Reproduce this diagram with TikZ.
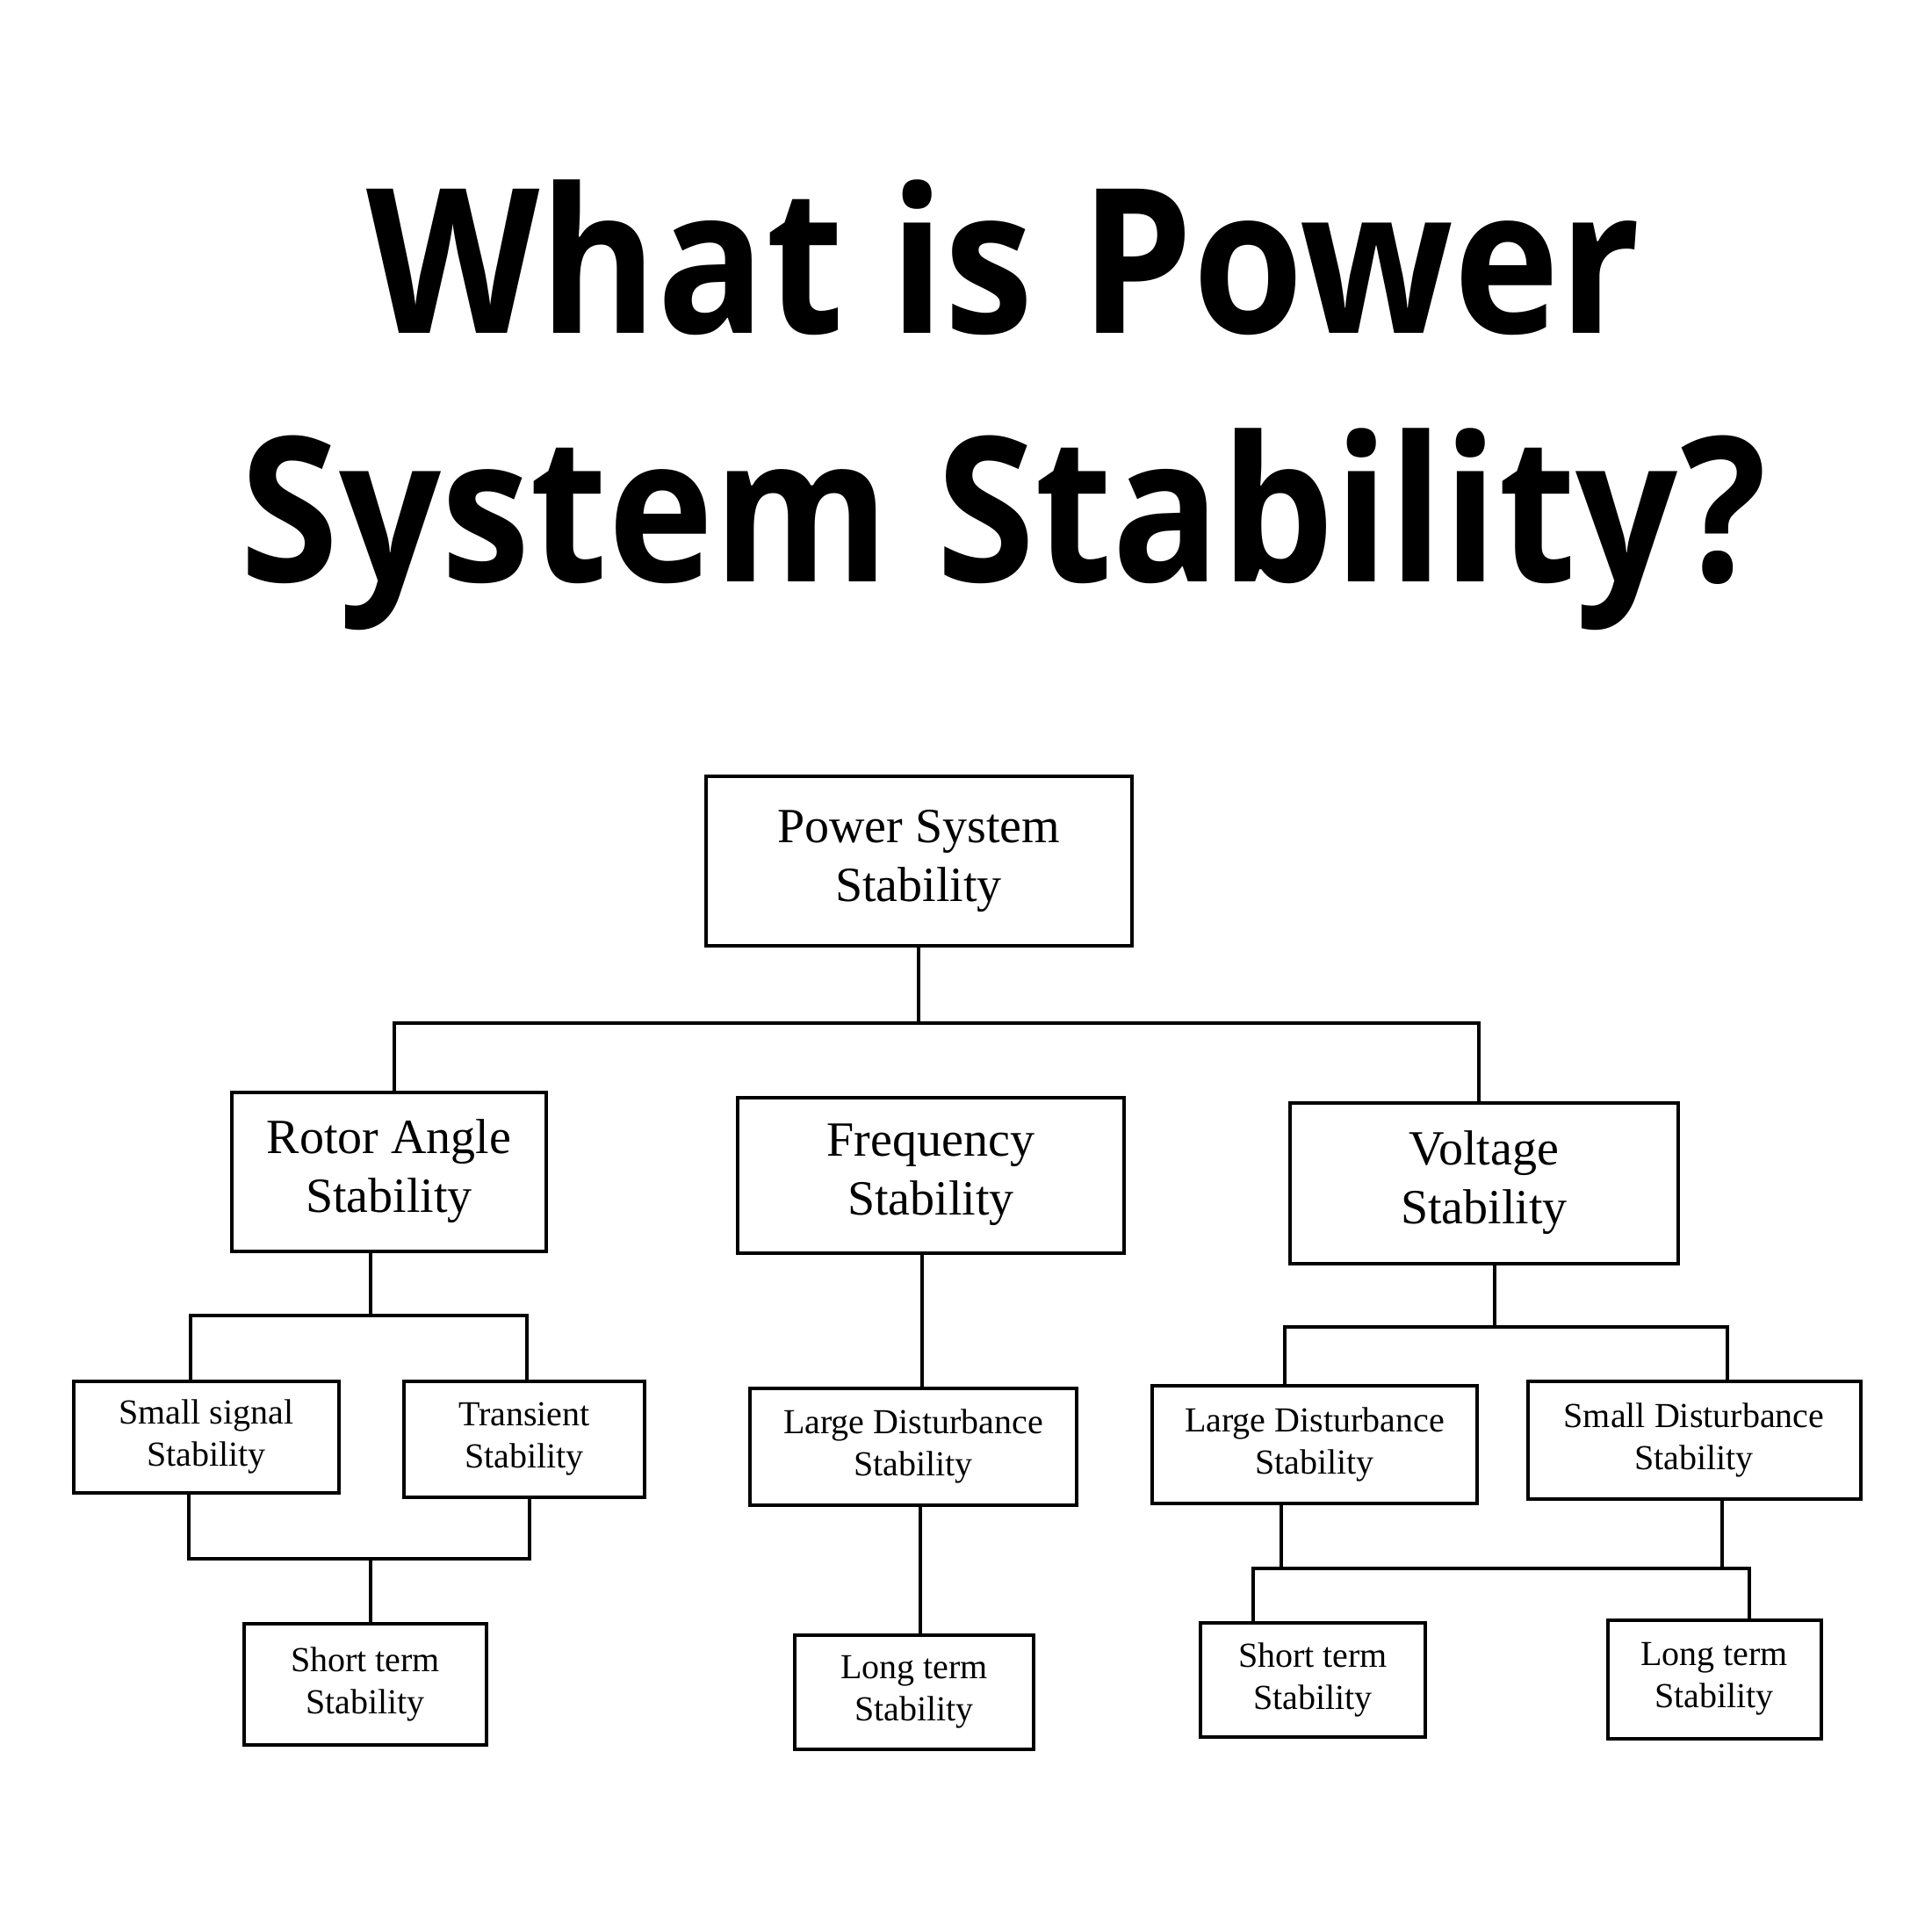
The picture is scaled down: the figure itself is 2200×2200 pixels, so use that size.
\documentclass[tikz,border=0pt]{standalone}
\usepackage{graphicx}
\usepackage{fontspec}
\setmainfont{Liberation Serif}
\newfontfamily\titlefont{Open Sans}
\begin{document}
\begin{tikzpicture}[x=1pt,y=-1pt,
  bigbox/.style={draw,line width=4pt,inner sep=0pt,align=center,font=\fontsize{56}{67}\selectfont},
  smallbox/.style={draw,line width=4pt,inner sep=0pt,align=center,font=\fontsize{40}{48}\selectfont},
  titletext/.style={anchor=base,inner sep=0pt,font=\titlefont\bfseries\fontsize{230}{283}\selectfont},
  link/.style={line width=3.5pt}]
\useasboundingbox (0,0) rectangle (2200,2200);

% Title
\node (title1) [titletext] at (1143,379) {\scalebox{0.887}[1]{What is Power}};
\node (title2) [titletext] at (1143,662) {\scalebox{0.887}[1]{System Stability?}};

% Top box
\node (pss) [bigbox,minimum width=485pt,minimum height=193pt] at (1046,980) {Power System\\Stability};

% Second level
\node (rotor) [bigbox,minimum width=358pt,minimum height=181pt] at (443,1334) {Rotor Angle\\Stability};
\node (freq) [bigbox,minimum width=440pt,minimum height=177pt] at (1060,1338) {Frequency\\Stability};
\node (volt) [bigbox,minimum width=442pt,minimum height=183pt] at (1690,1347) {Voltage\\Stability};

% Third level
\node (ssig) [smallbox,minimum width=302pt,minimum height=127pt] at (235,1636) {Small signal\\Stability};
\node (trans) [smallbox,minimum width=274pt,minimum height=132pt] at (597,1639) {Transient\\Stability};
\node (ldf) [smallbox,minimum width=372pt,minimum height=133pt] at (1040,1647) {Large Disturbance\\Stability};
\node (ldv) [smallbox,minimum width=370pt,minimum height=134pt] at (1497,1645) {Large Disturbance\\Stability};
\node (sdv) [smallbox,minimum width=379pt,minimum height=134pt] at (1929,1640) {Small Disturbance\\Stability};

% Bottom level
\node (stl) [smallbox,minimum width=276pt,minimum height=138pt] at (416,1918) {Short term\\Stability};
\node (ltm) [smallbox,minimum width=272pt,minimum height=130pt] at (1041,1927) {Long term\\Stability};
\node (str) [smallbox,minimum width=256pt,minimum height=130pt] at (1495,1913) {Short term\\Stability};
\node (ltr) [smallbox,minimum width=243pt,minimum height=135pt] at (1952,1912) {Long term\\Stability};

% Bus points
\coordinate (b1l) at (449,1165);
\coordinate (b1r) at (1684,1165);
\coordinate (b2l) at (217,1498);
\coordinate (b2m) at (422,1498);
\coordinate (b2r) at (600,1498);
\coordinate (b3l) at (215,1775);
\coordinate (b3m) at (422,1775);
\coordinate (b3r) at (603,1775);
\coordinate (f1) at (1050,1490);
\coordinate (f2) at (1048,1790);
\coordinate (b4l) at (1463,1511);
\coordinate (b4m) at (1702,1511);
\coordinate (b4r) at (1967,1511);
\coordinate (b5l) at (1427,1786);
\coordinate (b5a) at (1459,1786);
\coordinate (b5b) at (1961,1786);
\coordinate (b5r) at (1992,1786);

% Connectors
\draw[link] (pss.south) -- (pss.south |- b1l);
\draw[link] (rotor.north -| b1l) -- (b1l) -- (b1r) -- (volt.north -| b1r);

\draw[link] (rotor.south -| b2m) -- (b2m);
\draw[link] (ssig.north -| b2l) -- (b2l) -- (b2r) -- (trans.north -| b2r);
\draw[link] (ssig.south -| b3l) -- (b3l) -- (b3r) -- (trans.south -| b3r);
\draw[link] (b3m) -- (stl.north -| b3m);

\draw[link] (freq.south -| f1) -- (ldf.north -| f1);
\draw[link] (ldf.south -| f2) -- (ltm.north -| f2);

\draw[link] (volt.south -| b4m) -- (b4m);
\draw[link] (ldv.north -| b4l) -- (b4l) -- (b4r) -- (sdv.north -| b4r);
\draw[link] (ldv.south -| b5a) -- (b5a);
\draw[link] (sdv.south -| b5b) -- (b5b);
\draw[link] (str.north -| b5l) -- (b5l) -- (b5r) -- (ltr.north -| b5r);

\end{tikzpicture}
\end{document}
